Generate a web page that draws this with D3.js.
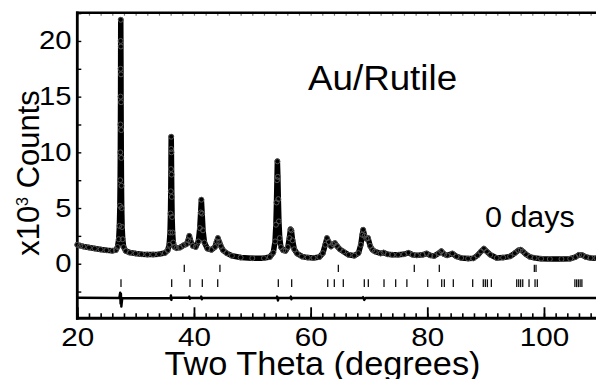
<!DOCTYPE html>
<html>
<head>
<meta charset="utf-8">
<script src="https://cdn.jsdelivr.net/npm/d3@7"></script>
<style>
  body { margin: 0; background: #fff; }
  svg { display: block; font-family: "Liberation Sans", Arial, sans-serif; }
</style>
</head>
<body>
<svg id="chart" width="596" height="379"></svg>
<script>
// observed / calculated pattern, [2theta, counts x10^3]
const pattern = [
  [20.0,1.70],[20.5,1.62],[21.0,1.55],[22.0,1.45],[23.0,1.36],[24.0,1.28],[25.0,1.21],[26.0,1.16],
  [26.6,1.22],[26.9,1.5],[27.1,2.2],[27.22,3.4],[27.3,5.2],[27.35,7.5],[27.38,10],[27.4,12.5],
  [27.42,15],[27.43,17.5],[27.44,20],[27.45,21.9],[27.47,19.5],[27.49,17],[27.5,14.5],[27.52,12],
  [27.54,9.5],[27.57,7],[27.61,5],[27.68,3.3],[27.78,2.2],[27.95,1.5],[28.3,1.15],[29.0,1.0],
  [30.0,0.92],[31.0,0.86],[32.0,0.82],[33.0,0.82],[34.0,0.86],[35.0,0.96],[35.5,1.2],[35.75,1.7],
  [35.9,2.8],[35.98,4.5],[36.03,6.5],[36.06,8.5],[36.08,10.3],[36.1,11.4],[36.13,10],[36.16,8],
  [36.2,6],[36.25,4.2],[36.33,2.8],[36.45,1.9],[36.65,1.5],[37.0,1.4],[37.6,1.45],[38.2,1.65],
  [38.7,1.75],[39.0,2.1],[39.2,2.5],[39.45,2.0],[39.8,1.6],[40.3,1.5],[40.75,2.0],[41.0,3.2],
  [41.15,4.6],[41.27,5.75],[41.4,4.5],[41.55,3.0],[41.8,1.9],[42.3,1.35],[43.0,1.25],[43.6,1.5],
  [43.9,2.0],[44.1,2.3],[44.35,1.95],[44.6,1.6],[45.0,1.2],[45.6,0.95],[46.5,0.72],[48.0,0.56],
  [50.0,0.5],[52.0,0.5],[53.0,0.6],[53.6,1.0],[53.9,2.0],[54.05,3.5],[54.15,5.5],[54.23,7.5],
  [54.3,9.2],[54.38,7.8],[54.46,5.8],[54.56,3.8],[54.7,2.3],[54.9,1.5],[55.3,1.2],[55.7,1.15],
  [56.1,1.5],[56.35,2.3],[56.55,3.1],[56.7,3.0],[56.9,2.1],[57.2,1.3],[57.7,0.9],[58.5,0.65],
  [59.5,0.55],[60.5,0.52],[61.5,0.6],[62.1,0.95],[62.5,1.7],[62.8,2.3],[63.1,1.95],[63.5,1.55],
  [63.85,1.75],[64.15,1.85],[64.5,1.6],[65.0,1.3],[65.6,1.1],[66.5,0.8],[67.5,0.72],[68.2,0.95],
  [68.6,1.7],[68.85,2.6],[69.0,3.05],[69.25,2.5],[69.55,2.25],[69.85,2.3],[70.2,1.6],[70.6,1.25],
  [71.0,1.1],[72.0,0.92],[72.5,1.0],[73.2,0.85],[74.0,0.8],[75.0,0.8],[76.0,0.85],[76.75,0.98],
  [77.5,0.8],[78.2,0.75],[79.2,0.8],[79.9,0.92],[80.5,0.75],[81.2,0.7],[82.0,0.95],[82.4,1.12],
  [82.9,0.85],[83.4,0.75],[84.3,0.92],[85.0,0.65],[85.8,0.52],[87.0,0.46],[87.9,0.48],[88.6,0.75],
  [89.2,1.1],[89.7,1.35],[90.2,1.1],[90.8,0.8],[91.9,0.52],[93.0,0.55],[94.2,0.66],[95.0,0.95],
  [95.6,1.2],[96.0,1.26],[96.4,1.1],[96.9,0.85],[97.6,0.62],[98.4,0.52],[99.5,0.45],[101.0,0.42],
  [103.0,0.42],[104.5,0.45],[105.4,0.6],[106.0,0.8],[106.5,0.78],[107.2,0.6],[108.0,0.52],
  [109.0,0.5],[110.0,0.5]
];

// obs - calc
const diffPattern = [
  [20,-3.05],[27.2,-3.08],[27.35,-2.6],[27.42,-3.6],[27.48,-2.7],[27.55,-3.85],[27.7,-3.1],
  [36.0,-3.08],[36.05,-2.85],[36.12,-3.25],[36.2,-3.05],[39.15,-3.05],[39.2,-2.95],[39.3,-3.15],
  [39.4,-3.08],[41.2,-3.08],[41.25,-2.95],[41.35,-3.2],[41.45,-3.08],[54.2,-3.08],[54.25,-2.95],
  [54.4,-3.3],[54.5,-3.08],[56.5,-3.08],[56.6,-2.95],[56.7,-3.2],[56.8,-3.08],[68.9,-3.08],
  [69.0,-3.0],[69.2,-3.25],[69.4,-3.08],[110,-3.08]
];

// reflection markers (2theta)
const auReflections = [38.34, 44.45, 64.75, 77.77, 82.06, 98.35, 98.64];
const rutileReflections = [27.49, 36.18, 39.32, 41.43, 44.07, 54.46, 56.75, 62.93, 64.06, 65.6,
  69.2, 69.89, 72.58, 74.58, 76.5, 80.07, 82.47, 82.92, 84.46, 87.78, 89.6, 89.95, 90.3, 90.98,
  95.33, 95.67, 96.0, 96.36, 97.44, 98.47, 98.86, 105.3, 105.6, 105.9, 106.2, 106.5];

const xTickLabels = [20, 40, 60, 80, 100];
const yTickLabels = [0, 5, 10, 15, 20];

const svg = d3.select('#chart');
const x = d3.scaleLinear().domain([20, 110]).range([77.3, 602.3]);
const y = d3.scaleLinear().domain([-4.9, 22.6]).range([318.3, 12]);
const font = '"Liberation Sans", Arial, sans-serif';

// minor ticks
const xMinor = d3.range(20, 111, 2);
svg.append('g').attr('transform', 'translate(0,318.3)')
  .call(d3.axisBottom(x).tickValues(xMinor).tickSize(-5).tickSizeOuter(0).tickFormat(''))
  .call(g => g.select('.domain').remove())
  .selectAll('line').attr('stroke', '#000').attr('stroke-width', 1.6);
svg.append('g').attr('transform', 'translate(0,12.7)')
  .call(d3.axisTop(x).tickValues(xMinor).tickSize(-3).tickSizeOuter(0).tickFormat(''))
  .call(g => g.select('.domain').remove())
  .selectAll('line').attr('stroke', '#777').attr('stroke-width', 1.2);

// major x ticks + labels
const xAxis = svg.append('g').attr('transform', 'translate(0,318.3)')
  .call(d3.axisBottom(x).tickValues(xTickLabels).tickSize(-11).tickSizeOuter(0).tickPadding(9));
xAxis.select('.domain').remove();
xAxis.selectAll('line').attr('stroke', '#000').attr('stroke-width', 1.8);
xAxis.selectAll('text').attr('font-family', font).attr('font-size', 26).attr('fill', '#000')
  .attr('transform', 'scale(1.14,1)');

// y ticks + labels
const yAxis = svg.append('g').attr('transform', 'translate(77.3,0)')
  .call(d3.axisLeft(y).tickValues(d3.range(-2.5, 22.6, 2.5)).tickSize(-4).tickSizeOuter(0)
    .tickPadding(5).tickFormat(d => yTickLabels.includes(d) ? d : ''));
yAxis.select('.domain').remove();
yAxis.selectAll('line').attr('stroke', '#000').attr('stroke-width', 1.4);
yAxis.selectAll('text').attr('font-family', font).attr('font-size', 25).attr('fill', '#000')
  .attr('transform', 'scale(1.17,1)');

// frame
const frame = svg.append('g').attr('stroke', '#000').attr('fill', 'none');
frame.append('line').attr('x1', 77.3).attr('x2', 77.3).attr('y1', 11.5).attr('y2', 319.8).attr('stroke-width', 2.8);
frame.append('line').attr('x1', 76).attr('x2', 600).attr('y1', 12.7).attr('y2', 12.7).attr('stroke-width', 2.4);
frame.append('line').attr('x1', 76).attr('x2', 600).attr('y1', 318.3).attr('y2', 318.3).attr('stroke-width', 3);

// reflection markers
svg.append('g').selectAll('line').data(auReflections).join('line')
  .attr('x1', d => x(d)).attr('x2', d => x(d))
  .attr('y1', y(-0.1)).attr('y2', y(-0.75))
  .attr('stroke', '#111').attr('stroke-width', 1.3);
svg.append('g').selectAll('line').data(rutileReflections).join('line')
  .attr('x1', d => x(d)).attr('x2', d => x(d))
  .attr('y1', y(-1.4)).attr('y2', y(-2.1))
  .attr('stroke', '#111').attr('stroke-width', 1.3);

// difference curve
svg.append('path').datum(diffPattern)
  .attr('d', d3.line().x(d => x(d[0])).y(d => y(d[1])))
  .attr('fill', 'none').attr('stroke', '#000').attr('stroke-width', 2.4).attr('stroke-linejoin', 'round');

// calculated line
svg.append('path').datum(pattern)
  .attr('d', d3.line().x(d => x(d[0])).y(d => y(d[1])))
  .attr('fill', 'none').attr('stroke', '#000').attr('stroke-width', 5.5)
  .attr('stroke-linejoin', 'round').attr('stroke-linecap', 'round');

// observed points
svg.append('g').selectAll('circle').data(pattern).join('circle')
  .attr('cx', d => x(d[0])).attr('cy', d => y(d[1])).attr('r', 2.5)
  .attr('fill', 'none').attr('stroke', '#555').attr('stroke-width', 1);

// labels
svg.append('text').attr('transform', 'translate(308,90) scale(1.05,1)').attr('font-size', 35).text('Au/Rutile');
svg.append('text').attr('transform', 'translate(485,227) scale(1.05,1)').attr('font-size', 29).text('0 days');
svg.append('text').attr('transform', 'translate(322.5,375) scale(1.04,1)').attr('font-size', 33)
  .attr('text-anchor', 'middle').text('Two Theta (degrees)');

const yTitle = svg.append('text').attr('transform', 'translate(38.5,173) rotate(-90)')
  .attr('font-size', 31).attr('text-anchor', 'middle');
yTitle.append('tspan').text('x10');
yTitle.append('tspan').attr('font-size', 16).attr('dy', -11).text('3');
yTitle.append('tspan').attr('dy', 11).text(' Counts');
</script>
</body>
</html>
